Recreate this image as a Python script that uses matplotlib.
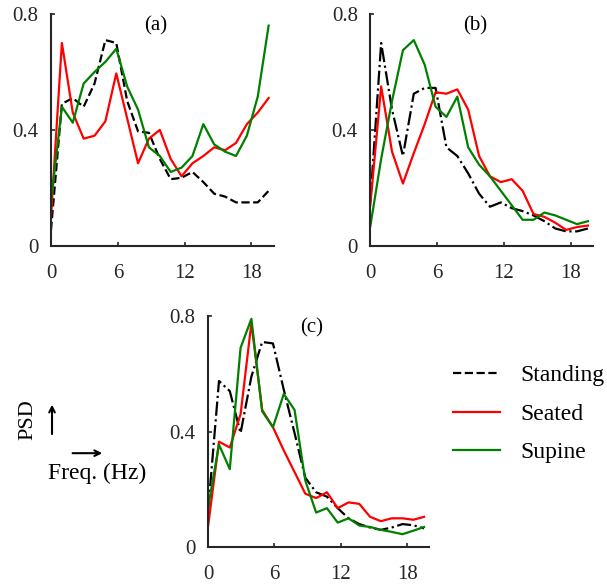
# -*- coding: utf-8 -*-

import numpy as np
import matplotlib
matplotlib.use('Agg')
import matplotlib.pyplot as plt
from matplotlib.patches import FancyArrowPatch
from matplotlib.lines import Line2D

plt.rcParams['font.family'] = ['Liberation Serif', 'DejaVu Serif']

# frequency bins (Hz)
freq = np.arange(21) * 0.977

# (a)
standing_a = [0.055, 0.49, 0.51, 0.48, 0.56, 0.71, 0.70, 0.50, 0.395, 0.39, 0.30,
              0.23, 0.235, 0.255, 0.22, 0.18, 0.17, 0.15, 0.15, 0.15, 0.19]
seated_a = [0.10, 0.70, 0.46, 0.37, 0.38, 0.43, 0.595, 0.44, 0.285, 0.37, 0.40,
            0.30, 0.24, 0.285, 0.31, 0.34, 0.33, 0.355, 0.42, 0.46, 0.51]
supine_a = [0.15, 0.48, 0.425, 0.56, 0.60, 0.635, 0.68, 0.55, 0.47, 0.34, 0.31,
            0.255, 0.27, 0.31, 0.42, 0.35, 0.325, 0.31, 0.38, 0.515, 0.76]

# (b)
standing_b = [0.15, 0.70, 0.47, 0.31, 0.525, 0.545, 0.545, 0.34, 0.31, 0.25, 0.18,
              0.135, 0.15, 0.13, 0.12, 0.105, 0.085, 0.06, 0.05, 0.05, 0.06]
seated_b = [0.14, 0.55, 0.325, 0.215, 0.32, 0.42, 0.53, 0.525, 0.54, 0.47, 0.31,
            0.24, 0.22, 0.23, 0.19, 0.11, 0.10, 0.08, 0.055, 0.065, 0.07]
supine_b = [0.067, 0.30, 0.50, 0.675, 0.71, 0.625, 0.48, 0.445, 0.515, 0.34, 0.28,
            0.24, 0.19, 0.14, 0.09, 0.09, 0.115, 0.105, 0.09, 0.075, 0.085]

# (c)
standing_c = [0.13, 0.575, 0.54, 0.395, 0.59, 0.71, 0.705, 0.545, 0.395, 0.24, 0.19,
              0.175, 0.135, 0.10, 0.08, 0.068, 0.06, 0.068, 0.08, 0.076, 0.065]
seated_c = [0.076, 0.365, 0.345, 0.46, 0.775, 0.475, 0.415, 0.335, 0.26, 0.185, 0.17,
            0.19, 0.135, 0.155, 0.15, 0.105, 0.09, 0.10, 0.10, 0.095, 0.105]
supine_c = [0.14, 0.355, 0.27, 0.69, 0.79, 0.47, 0.415, 0.53, 0.475, 0.23, 0.12,
            0.135, 0.085, 0.10, 0.075, 0.07, 0.06, 0.053, 0.045, 0.057, 0.07]

labels = ['Standing', 'Seated', 'Supine']
colors = ['black', '#ff0000', '#008000']
x_ticks = [0, 6, 12, 18]
y_ticks = [0, 0.4, 0.8]
y_tick_labels = ['0', '0.4', '0.8']

AX_COLOR = '#262626'


def style_axes(ax, title):
    for side in ['top', 'right']:
        ax.spines[side].set_visible(False)
    for side in ['left', 'bottom']:
        ax.spines[side].set_linewidth(1.5)
        ax.spines[side].set_color(AX_COLOR)
    ax.set_xlim(0, 20)
    ax.set_ylim(0, 0.8)
    ax.set_xticks(x_ticks)
    ax.set_yticks(y_ticks)
    ax.set_yticklabels(y_tick_labels)
    ax.tick_params(direction='in', length=3, width=1.2, colors=AX_COLOR,
                   labelsize=15)
    ax.tick_params(axis='x', pad=13)
    ax.tick_params(axis='y', pad=9)
    ax.text(0.47, 0.99, title, transform=ax.transAxes, ha='center', va='top',
            fontsize=15)


def plot_panel(ax, standing, seated, supine, title, std_style):
    ax.plot(freq, standing, color=colors[0], linestyle=std_style, lw=1.6)
    ax.plot(freq, seated, color=colors[1], lw=1.6)
    ax.plot(freq, supine, color=colors[2], lw=1.6)
    style_axes(ax, title)


fig = plt.figure(figsize=(6.07, 5.84), dpi=100)

ax_a = fig.add_axes([0.084, 0.579, 0.367, 0.397])
ax_b = fig.add_axes([0.610, 0.579, 0.367, 0.397])
ax_c = fig.add_axes([0.343, 0.063, 0.364, 0.396])

plot_panel(ax_a, standing_a, seated_a, supine_a, '(a)', '--')
plot_panel(ax_b, standing_b, seated_b, supine_b, '(b)', '-.')
plot_panel(ax_c, standing_c, seated_c, supine_c, '(c)', '-.')

handles = [Line2D([], [], color=colors[0], linestyle='--', lw=1.6),
           Line2D([], [], color=colors[1], lw=1.6),
           Line2D([], [], color=colors[2], lw=1.6)]
fig.legend(handles, labels, loc='center left', bbox_to_anchor=(0.727, 0.291),
           frameon=False, fontsize=17, handlelength=2.0, handletextpad=0.85,
           labelspacing=0.72, borderpad=0)

# axis hint: PSD up, frequency right
fig.text(0.046, 0.281, 'PSD', rotation=90, ha='center', va='center', fontsize=16)
fig.text(0.160, 0.190, 'Freq. (Hz)', ha='center', va='center', fontsize=17)
fig.add_artist(FancyArrowPatch((0.0857, 0.252), (0.0857, 0.312), transform=fig.transFigure,
                               arrowstyle='->', mutation_scale=10, lw=1.5, color='black'))
fig.add_artist(FancyArrowPatch((0.115, 0.224), (0.173, 0.224), transform=fig.transFigure,
                               arrowstyle='->', mutation_scale=10, lw=1.5, color='black'))

fig.savefig('out.png', dpi=100)
